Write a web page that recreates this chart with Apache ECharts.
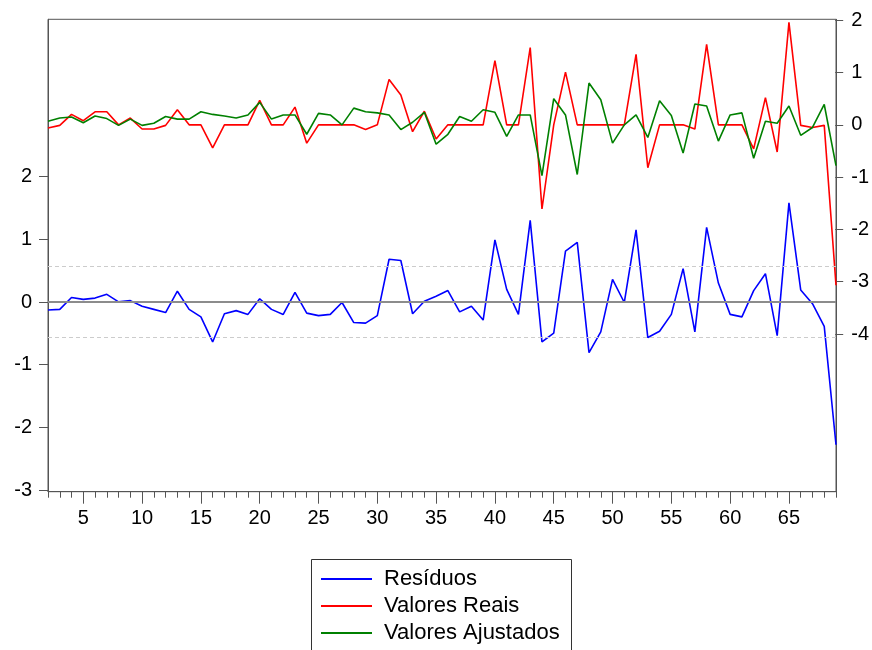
<!DOCTYPE html>
<html><head><meta charset="utf-8">
<script src="https://cdn.jsdelivr.net/npm/echarts@6/dist/echarts.min.js"></script>
<style>html,body{margin:0;padding:0;background:#fff}#c{width:872px;height:650px}</style>
</head><body><div id="c"></div>
<script>
const observacoes = ['2','3','4','5','6','7','8','9','10','11','12','13','14','15','16','17','18','19','20','21','22','23','24','25','26','27','28','29','30','31','32','33','34','35','36','37','38','39','40','41','42','43','44','45','46','47','48','49','50','51','52','53','54','55','56','57','58','59','60','61','62','63','64','65','66','67','68','69'];

const residuos = [-0.13,-0.12,0.07,0.04,0.06,0.12,0.00,0.02,-0.07,-0.12,-0.17,0.17,-0.12,-0.24,-0.64,-0.19,-0.14,-0.20,0.05,-0.12,-0.20,0.15,-0.18,-0.22,-0.20,-0.01,-0.33,-0.34,-0.22,0.68,0.66,-0.19,0.01,0.09,0.18,-0.16,-0.07,-0.29,0.99,0.20,-0.20,1.30,-0.64,-0.50,0.81,0.95,-0.81,-0.48,0.36,-0.01,1.15,-0.57,-0.47,-0.20,0.53,-0.48,1.19,0.30,-0.20,-0.24,0.18,0.45,-0.54,1.58,0.19,-0.03,-0.39,-2.28];

const valoresReais = [-0.06,-0.01,0.20,0.08,0.25,0.25,0.00,0.13,-0.08,-0.08,-0.01,0.29,0.00,0.00,-0.44,0.00,0.00,0.00,0.47,0.00,0.00,0.34,-0.35,0.00,0.00,0.00,0.00,-0.09,0.00,0.87,0.57,-0.13,0.26,-0.27,0.00,0.00,0.00,0.00,1.23,0.00,0.00,1.48,-1.61,0.00,1.01,0.00,0.00,0.00,0.00,0.00,1.35,-0.82,0.00,0.00,0.00,-0.08,1.54,0.00,0.00,0.00,-0.46,0.52,-0.52,1.96,-0.01,-0.05,-0.01,-3.07];

const valoresAjustados = [0.07,0.13,0.15,0.04,0.17,0.12,-0.01,0.11,-0.01,0.03,0.16,0.11,0.11,0.25,0.20,0.17,0.13,0.19,0.43,0.11,0.19,0.19,-0.18,0.22,0.19,0.00,0.32,0.25,0.23,0.19,-0.09,0.05,0.24,-0.37,-0.18,0.16,0.07,0.29,0.24,-0.22,0.19,0.19,-0.97,0.50,0.19,-0.95,0.80,0.48,-0.35,0.00,0.19,-0.24,0.46,0.18,-0.54,0.40,0.36,-0.31,0.19,0.23,-0.64,0.07,0.03,0.36,-0.20,-0.05,0.39,-0.78];

const ticksEsquerda = [-3,-2,-1,0,1,2];
const ticksDireita = [-4,-3,-2,-1,0,1,2];
const erroPadrao = 0.57;
const nomes = ['Resíduos','Valores Reais','Valores Ajustados'];

const FONT = '"Liberation Sans", Arial, sans-serif';
const AX = '#555';
const major = (i, v) => (+v) % 5 === 0;

const chart = echarts.init(document.getElementById('c'), null, {renderer:'canvas'});
chart.setOption({
  animation: false,
  backgroundColor: '#fff',
  textStyle: {fontFamily: FONT},
  grid: [
    {left:48, right:36, top:19.3, bottom:158.3, show:true, borderColor:AX, borderWidth:1, backgroundColor:'transparent'},
    {left:48, right:36, top:176.7, bottom:160},
    {left:48, right:36, top:20.3, bottom:316}
  ],
  xAxis: [
    {gridIndex:0, type:'category', data:observacoes, boundaryGap:false, position:'bottom',
     axisLine:{show:true, onZero:false, lineStyle:{color:AX, width:1}},
     axisTick:{show:true, length:6, interval:0, lineStyle:{color:AX}},
     axisLabel:{show:false}, splitLine:{show:false}},
    {gridIndex:0, type:'category', data:observacoes, boundaryGap:false, position:'bottom',
     axisLine:{show:false, onZero:false},
     axisTick:{show:true, length:12, interval:major, lineStyle:{color:AX}},
     axisLabel:{show:true, interval:major, fontSize:20, color:'#000', margin:17, fontFamily:FONT},
     splitLine:{show:false}},
    {gridIndex:1, type:'value', show:false, min:0, max:1, axisLine:{onZero:false}},
    {gridIndex:2, type:'value', show:false, min:0, max:1, axisLine:{onZero:false}}
  ],
  yAxis: [
    {gridIndex:0, type:'value', position:'left', min:-3.03, max:4.51,
     axisLine:{show:true, onZero:false, lineStyle:{color:AX}}, axisTick:{show:false}, axisLabel:{show:false}, splitLine:{show:false}},
    {gridIndex:0, type:'value', position:'right', min:-7.02, max:2.02,
     axisLine:{show:true, onZero:false, lineStyle:{color:AX}}, axisTick:{show:false}, axisLabel:{show:false}, splitLine:{show:false}},
    {gridIndex:1, type:'value', position:'left', min:ticksEsquerda[0], max:ticksEsquerda[ticksEsquerda.length-1], interval:1,
     axisLine:{show:false, onZero:false}, axisTick:{show:true, length:9, lineStyle:{color:AX}},
     axisLabel:{fontSize:20, color:'#000', margin:16, fontFamily:FONT}, splitLine:{show:false}},
    {gridIndex:2, type:'value', position:'right', min:ticksDireita[0], max:ticksDireita[ticksDireita.length-1], interval:1,
     axisLine:{show:false, onZero:false}, axisTick:{show:true, length:8, lineStyle:{color:AX}},
     axisLabel:{fontSize:20, color:'#000', margin:16, fontFamily:FONT}, splitLine:{show:false}}
  ],
  graphic: [
    {type:'rect', left:311, top:559, z:0, silent:true,
     shape:{x:0, y:0, width:260, height:120},
     style:{fill:'transparent', stroke:'#333', lineWidth:1}}
  ],
  legend: {
    data: nomes, orient:'vertical', left:311, top:560, icon:'rect', itemWidth:51, itemHeight:2, itemGap:5,
    padding:[8,13,0,10], borderWidth:0, selectedMode:false,
    textStyle:{fontSize:22, lineHeight:22, color:'#000', fontFamily:FONT, padding:[0,0,0,7]}
  },
  series: [
    {name:'ref', type:'line', xAxisIndex:0, yAxisIndex:0, data:[], z:1, silent:true,
     markLine:{silent:true, symbol:'none', label:{show:false}, animation:false,
       data:[
         {yAxis:0, lineStyle:{color:'#8c8c8c', width:2, type:'solid'}},
         {yAxis:erroPadrao, lineStyle:{color:'#cccccc', width:1, type:[4,3]}},
         {yAxis:-erroPadrao, lineStyle:{color:'#cccccc', width:1, type:[4,3]}}
       ]}},
    {name:nomes[0], type:'line', xAxisIndex:0, yAxisIndex:0, data:residuos, symbol:'none', z:3,
     color:'#0000ff', lineStyle:{color:'#0000ff', width:1.6}},
    {name:nomes[1], type:'line', xAxisIndex:0, yAxisIndex:1, data:valoresReais, symbol:'none', z:3,
     color:'#ff0000', lineStyle:{color:'#ff0000', width:1.6}},
    {name:nomes[2], type:'line', xAxisIndex:0, yAxisIndex:1, data:valoresAjustados, symbol:'none', z:3,
     color:'#008000', lineStyle:{color:'#008000', width:1.6}}
  ]
});
</script>
</body></html>
